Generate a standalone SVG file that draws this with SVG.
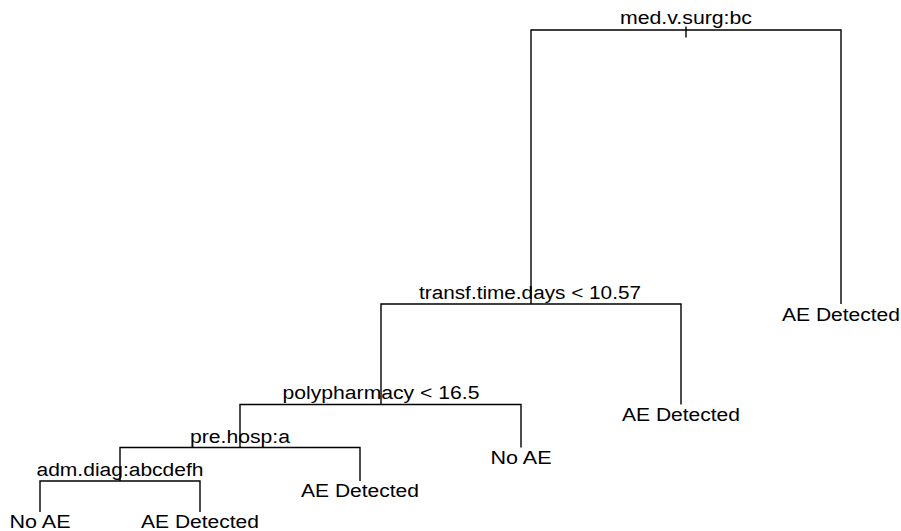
<svg xmlns="http://www.w3.org/2000/svg" width="901" height="531" viewBox="0 0 901 531">
<style>
.c{fill:none;stroke:#000;stroke-width:1.4;stroke-linecap:butt}
text{font-family:"Liberation Sans",Arial,sans-serif;font-size:18px;fill:#000;text-anchor:middle}
</style>
<rect width="901" height="531" fill="#fff"/>
<g id="connectors">
<path class="c" d="M686,26.5V37.5"/>
<path class="c" d="M531,304V30H841V304"/>
<path class="c" d="M381,404.5V304H681V404.5"/>
<path class="c" d="M240,447.5V404.5H521V447.5"/>
<path class="c" d="M120,481V447.5H360V481"/>
<path class="c" d="M40,512V481H200V512"/>
</g>
<g id="n1"><text x="686" y="23.5" textLength="132" lengthAdjust="spacingAndGlyphs">med.v.surg:bc</text></g>
<g id="n2"><text x="530" y="299" textLength="222" lengthAdjust="spacingAndGlyphs">transf.time.days &lt; 10.57</text></g>
<g id="n3"><text x="841" y="321" textLength="118" lengthAdjust="spacingAndGlyphs">AE Detected</text></g>
<g id="n4"><text x="381" y="399" textLength="197" lengthAdjust="spacingAndGlyphs">polypharmacy &lt; 16.5</text></g>
<g id="n5"><text x="681" y="420.5" textLength="118" lengthAdjust="spacingAndGlyphs">AE Detected</text></g>
<g id="n6"><text x="240" y="443" textLength="100" lengthAdjust="spacingAndGlyphs">pre.hosp:a</text></g>
<g id="n7"><text x="521" y="464" textLength="61" lengthAdjust="spacingAndGlyphs">No AE</text></g>
<g id="n8"><text x="120" y="476" textLength="167" lengthAdjust="spacingAndGlyphs">adm.diag:abcdefh</text></g>
<g id="n9"><text x="360" y="497" textLength="118" lengthAdjust="spacingAndGlyphs">AE Detected</text></g>
<g id="n10"><text x="40" y="527.5" textLength="61" lengthAdjust="spacingAndGlyphs">No AE</text></g>
<g id="n11"><text x="200" y="527.5" textLength="118" lengthAdjust="spacingAndGlyphs">AE Detected</text></g>
</svg>
